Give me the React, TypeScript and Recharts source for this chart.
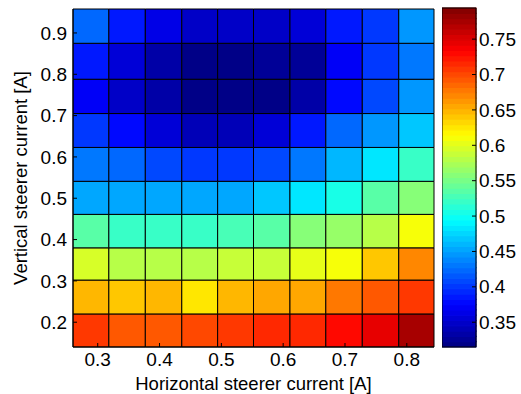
import { ComposedChart, XAxis, YAxis, ReferenceArea } from "recharts";

// cell edges in amperes (pcolor vertices)
const xEdges = [0.26, 0.318, 0.377, 0.436, 0.494, 0.552, 0.611, 0.669, 0.728, 0.787, 0.844];
const yEdges = [0.14, 0.22, 0.302, 0.38, 0.461, 0.541, 0.623, 0.705, 0.788, 0.875, 0.958];

// cell values, bottom row first
const cellRows = [
  [0.711, 0.693, 0.696, 0.703, 0.705, 0.713, 0.715, 0.732, 0.744, 0.774],
  [0.648, 0.638, 0.646, 0.629, 0.648, 0.654, 0.659, 0.675, 0.692, 0.711],
  [0.593, 0.578, 0.583, 0.578, 0.588, 0.588, 0.602, 0.614, 0.638, 0.668],
  [0.535, 0.519, 0.519, 0.519, 0.528, 0.533, 0.555, 0.564, 0.578, 0.614],
  [0.457, 0.457, 0.452, 0.457, 0.454, 0.466, 0.48, 0.509, 0.533, 0.555],
  [0.431, 0.427, 0.411, 0.404, 0.399, 0.411, 0.431, 0.462, 0.487, 0.519],
  [0.404, 0.377, 0.358, 0.344, 0.344, 0.353, 0.384, 0.422, 0.445, 0.471],
  [0.373, 0.351, 0.332, 0.317, 0.315, 0.319, 0.334, 0.375, 0.411, 0.449],
  [0.384, 0.356, 0.335, 0.319, 0.319, 0.325, 0.329, 0.372, 0.404, 0.431],
  [0.422, 0.389, 0.363, 0.345, 0.345, 0.349, 0.358, 0.389, 0.404, 0.443],
];

const xTicks = [0.3, 0.4, 0.5, 0.6, 0.7, 0.8];
const yTicks = [0.2, 0.3, 0.4, 0.5, 0.6, 0.7, 0.8, 0.9];
const cbarTicks = [0.35, 0.4, 0.45, 0.5, 0.55, 0.6, 0.65, 0.7, 0.75];
const cMin = 0.315;
const cMax = 0.794;
const LEVELS = 64;

const FONT = "'Liberation Sans', Arial, sans-serif";
const FS = 18.5;
const TICK_FS = 19;

type TickProps = { x?: number; y?: number; payload?: { value?: number } };

function makeTick(anchor: "start" | "middle" | "end", dy: string) {
  return ({ x = 0, y = 0, payload }: TickProps) => (
    <text x={x} y={y} dy={dy} textAnchor={anchor} fill="#000" fontSize={TICK_FS} fontFamily={FONT}>
      {payload?.value != null ? String(payload.value) : ""}
    </text>
  );
}

const bottomTick = makeTick("middle", "0.71em");
const leftTick = makeTick("end", "0.35em");
const rightTick = makeTick("start", "0.35em");

function clamp01(v: number) {
  return Math.max(0, Math.min(1, v));
}

// matlab jet
function jet(t: number) {
  const r = clamp01(1.5 - Math.abs(4 * t - 3));
  const g = clamp01(1.5 - Math.abs(4 * t - 2));
  const b = clamp01(1.5 - Math.abs(4 * t - 1));
  const h = (c: number) => Math.round(c * 255).toString(16).padStart(2, "0");
  return `#${h(r)}${h(g)}${h(b)}`;
}

function levelColor(idx: number) {
  return jet((idx + 0.5) / LEVELS);
}

function valueColor(v: number) {
  const idx = Math.max(0, Math.min(LEVELS - 1, Math.floor(((v - cMin) / (cMax - cMin)) * LEVELS)));
  return levelColor(idx);
}

function HeatMap() {
  return (
    <ComposedChart width={521} height={394} margin={{ top: 9, right: 87, bottom: 0, left: 0 }}>
      <XAxis
        type="number"
        dataKey="x"
        domain={[xEdges[0], xEdges[xEdges.length - 1]]}
        allowDataOverflow
        ticks={xTicks}
        height={47}
        stroke="#000"
        tickSize={-4}
        tickMargin={10}
        tick={bottomTick}
        label={{ value: "Horizontal steerer current [A]", position: "insideBottom", offset: 4, fill: "#000", fontSize: FS }}
      />
      <XAxis
        xAxisId="top"
        orientation="top"
        type="number"
        domain={[xEdges[0], xEdges[xEdges.length - 1]]}
        allowDataOverflow
        ticks={xTicks}
        height={0}
        stroke="#000"
        tickSize={-4}
        tick={false}
      />
      <YAxis
        type="number"
        dataKey="y"
        domain={[yEdges[0], yEdges[yEdges.length - 1]]}
        allowDataOverflow
        ticks={yTicks}
        width={73}
        stroke="#000"
        tickSize={-4}
        tickMargin={10}
        tick={leftTick}
        label={{
          value: "Vertical steerer current [A]",
          angle: -90,
          position: "insideLeft",
          offset: 20,
          fill: "#000",
          fontSize: FS,
          style: { textAnchor: "middle" },
        }}
      />
      <YAxis
        yAxisId="right"
        orientation="right"
        type="number"
        domain={[yEdges[0], yEdges[yEdges.length - 1]]}
        allowDataOverflow
        ticks={yTicks}
        width={0}
        stroke="#000"
        tickSize={-4}
        tick={false}
      />
      {cellRows.map((row, ri) =>
        row.map((v, ci) => (
          <ReferenceArea
            key={`c-${ri}-${ci}`}
            x1={xEdges[ci]}
            x2={xEdges[ci + 1]}
            y1={yEdges[ri]}
            y2={yEdges[ri + 1]}
            fill={valueColor(v)}
            fillOpacity={1}
            stroke="#000"
            strokeWidth={1}
          />
        ))
      )}
    </ComposedChart>
  );
}

function ColorBar() {
  const step = (cMax - cMin) / LEVELS;
  const bands = Array.from({ length: LEVELS }, (_, i) => i);
  return (
    <ComposedChart width={79} height={394} margin={{ top: 8, right: 0, bottom: 47, left: 0 }}>
      <XAxis type="number" dataKey="x" domain={[0, 1]} allowDataOverflow hide height={0} />
      <YAxis
        orientation="right"
        type="number"
        dataKey="y"
        domain={[cMin, cMax]}
        allowDataOverflow
        ticks={cbarTicks}
        width={45}
        stroke="#000"
        tickSize={-4}
        tickMargin={7}
        tick={rightTick}
        axisLine={false}
      />
      {bands.map((i) => (
        <ReferenceArea
          key={`b-${i}`}
          y1={cMin + i * step}
          y2={cMin + (i + 1) * step}
          fill={levelColor(i)}
          fillOpacity={1}
          stroke={levelColor(i)}
          strokeWidth={1.2}
          ifOverflow="visible"
        />
      ))}
      <ReferenceArea y1={cMin} y2={cMax} fill="none" stroke="#000" strokeWidth={1} ifOverflow="visible" />
    </ComposedChart>
  );
}

export default function App() {
  return (
    <div
      style={{
        position: "absolute",
        left: 0,
        top: 0,
        width: 521,
        height: 394,
        background: "#fff",
        fontFamily: FONT,
        fontSize: FS,
      }}
    >
      <div style={{ position: "absolute", left: 0, top: 0 }}>
        <HeatMap />
      </div>
      <div style={{ position: "absolute", left: 442, top: 0 }}>
        <ColorBar />
      </div>
    </div>
  );
}
